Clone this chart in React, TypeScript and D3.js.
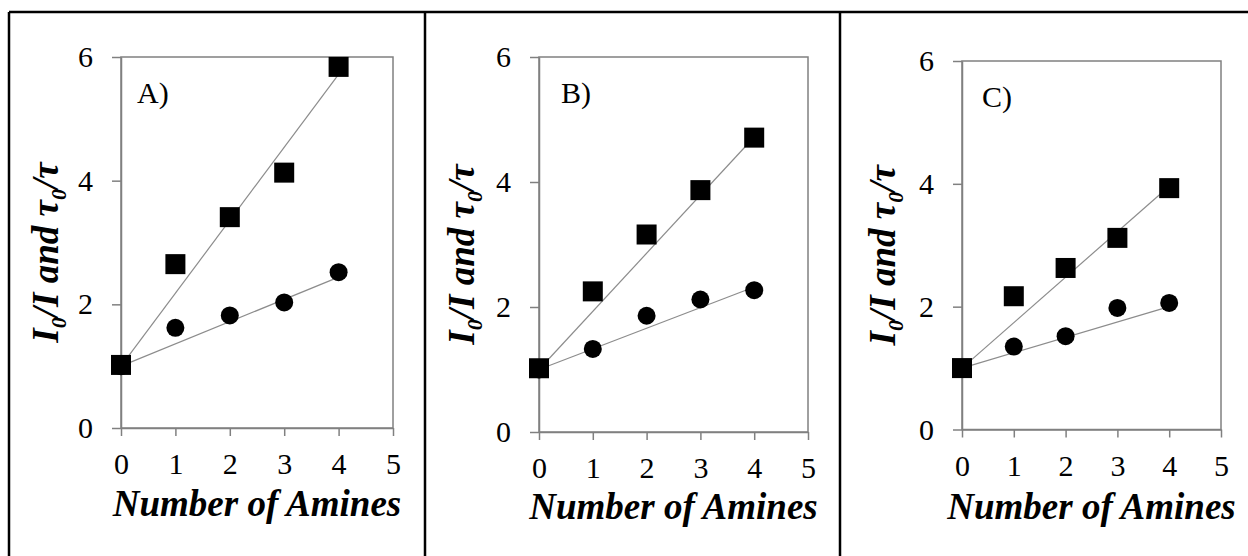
import * as React from 'react';
import * as d3 from 'd3';

// number of amines on the x axis
const amines = [0, 1, 2, 3, 4];
const xTicks = [0, 1, 2, 3, 4, 5];
const yTicks = [0, 2, 4, 6];

// I0/I (squares) and tau0/tau (circles)
const squaresA = [1.02, 2.65, 3.41, 4.13, 5.84];
const circlesA = [1.0, 1.62, 1.82, 2.03, 2.52];
const squaresB = [1.02, 2.25, 3.16, 3.87, 4.71];
const circlesB = [1.0, 1.33, 1.86, 2.12, 2.27];
const squaresC = [1.0, 2.17, 2.63, 3.12, 3.93];
const circlesC = [1.0, 1.35, 1.52, 1.98, 2.06];

// linear fits, intercept 1
const fitSquareSlopes = [1.18, 0.93, 0.74];
const fitCircleSlopes = [0.36, 0.33, 0.25];

const panelLabels = ['A)', 'B)', 'C)'];

const panels = [
  {left: 121, right: 393, top: 57, bottom: 428, labelDx: 16, titleY: 516, yTitleX: 46},
  {left: 539, right: 808, top: 57, bottom: 432, labelDx: 22, titleY: 519, yTitleX: 462},
  {left: 962, right: 1221, top: 61, bottom: 429.5, labelDx: 20, titleY: 519, yTitleX: 883},
];

const series = [
  {squares: squaresA, circles: circlesA},
  {squares: squaresB, circles: circlesB},
  {squares: squaresC, circles: circlesC},
];

const FONT = '"Liberation Serif", "Times New Roman", serif';
const AXIS = '#808080';

export default function App() {
  const ref = React.useRef<SVGSVGElement>(null);

  React.useEffect(() => {
    const svg = d3.select(ref.current);
    svg.selectAll('*').remove();

    // table-like frame
    const frame = svg.append('g').attr('stroke', '#000').attr('stroke-width', 2.5);
    frame.append('line').attr('x1', 9).attr('x2', 1248).attr('y1', 12).attr('y2', 12);
    [9, 425, 840].forEach(x => {
      frame.append('line').attr('x1', x).attr('x2', x).attr('y1', 12).attr('y2', 560);
    });

    panels.forEach((p, i) => {
      const x = d3.scaleLinear().domain([0, 5]).range([p.left, p.right]);
      const y = d3.scaleLinear().domain([0, 6]).range([p.bottom, p.top]);
      const g = svg.append('g');

      // plot box
      g.append('rect')
        .attr('x', p.left).attr('y', p.top)
        .attr('width', p.right - p.left).attr('height', p.bottom - p.top)
        .attr('fill', 'none').attr('stroke', AXIS).attr('stroke-width', 1.5);

      const yAxis = g.append('g').attr('transform', `translate(${p.left},0)`)
        .call(d3.axisLeft(y).tickValues(yTicks).tickFormat(d3.format('d'))
          .tickSize(9).tickSizeOuter(0).tickPadding(19));
      const xAxis = g.append('g').attr('transform', `translate(0,${p.bottom})`)
        .call(d3.axisBottom(x).tickValues(xTicks).tickFormat(d3.format('d'))
          .tickSize(8).tickSizeOuter(0).tickPadding(17));
      [xAxis, yAxis].forEach(a => {
        a.attr('font-family', FONT).attr('font-size', 30);
        a.select('.domain').attr('stroke', AXIS).attr('stroke-width', 1.5);
        a.selectAll('.tick line').attr('stroke', AXIS).attr('stroke-width', 1.5);
        a.selectAll('.tick text').attr('fill', '#000');
      });

      // fit lines
      [fitSquareSlopes[i], fitCircleSlopes[i]].forEach(slope => {
        const pts: [number, number][] = [[0, 1], [4, 1 + slope * 4]];
        g.append('path')
          .attr('d', d3.line<[number, number]>().x(d => x(d[0])).y(d => y(d[1]))(pts))
          .attr('fill', 'none').attr('stroke', '#8c8c8c').attr('stroke-width', 1.2);
      });

      const s = series[i];
      g.selectAll('circle.pt').data(amines).enter().append('circle')
        .attr('cx', d => x(d)).attr('cy', (d, j) => y(s.circles[j]))
        .attr('r', 9).attr('fill', '#000');
      g.selectAll('rect.pt').data(amines).enter().append('rect')
        .attr('x', d => x(d) - 10).attr('y', (d, j) => y(s.squares[j]) - 10)
        .attr('width', 20).attr('height', 20).attr('fill', '#000');

      // panel letter
      g.append('text').attr('x', p.left + p.labelDx).attr('y', p.top + 46)
        .style('font-family', FONT).style('font-size', '30px').text(panelLabels[i]);

      // x title
      g.append('text').attr('x', (p.left + p.right) / 2).attr('y', p.titleY)
        .attr('text-anchor', 'middle')
        .style('font-family', FONT).style('font-size', '37px')
        .style('font-weight', 'bold').style('font-style', 'italic')
        .text('Number of Amines');

      // y title
      const cy = (p.top + p.bottom) / 2 + 10;
      const yt = g.append('text')
        .attr('transform', `translate(${p.yTitleX + 12},${cy}) rotate(-90)`)
        .attr('text-anchor', 'middle')
        .style('font-family', FONT).style('font-size', '37px')
        .style('font-weight', 'bold').style('font-style', 'italic');
      yt.append('tspan').text('I');
      yt.append('tspan').attr('dy', 8).style('font-size', '22px').text('0');
      yt.append('tspan').attr('dy', -8).text('/I and τ');
      yt.append('tspan').attr('dy', 8).style('font-size', '22px').text('0');
      yt.append('tspan').attr('dy', -8).text('/τ');
    });
  }, []);

  return (
    <svg ref={ref} width="1248" height="556"
      style={{position: 'absolute', left: 0, top: 0, background: '#fff'}}></svg>
  );
}
